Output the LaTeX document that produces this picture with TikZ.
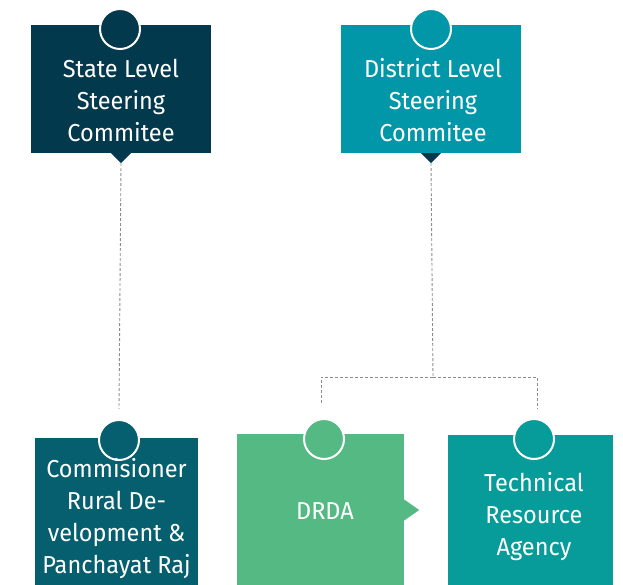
\documentclass[tikz,border=0pt]{standalone}
\usepackage{fontspec}
\setmainfont{Fira Sans}[FakeStretch=0.96]
\definecolor{statecol}{HTML}{03394C}
\definecolor{districtcol}{HTML}{0297A8}
\definecolor{commcol}{HTML}{055F6F}
\definecolor{drdacol}{HTML}{55B984}
\definecolor{techcol}{HTML}{079B9A}
\definecolor{linkcol}{HTML}{8C8C8C}
\tikzset{
	box/.style = {draw=none, rectangle, inner sep=0pt},
	dot/.style = {circle, draw=white, line width=2pt, minimum size=40pt, inner sep=0pt},
	lbl/.style = {text=white, align=center, font=\fontsize{24.5}{32}\selectfont, inner sep=0pt},
	link/.style = {draw=linkcol, line width=0.9pt, dash pattern=on 3pt off 2pt}
}
\begin{document}
\begin{tikzpicture}[x=1pt, y=-1pt]
		\useasboundingbox (0,0) rectangle (623,585);
		% boxes
		\node[box, fill=statecol, minimum width=180pt, minimum height=128pt] (state) at (121,89) {};
		\node[box, fill=districtcol, minimum width=180pt, minimum height=128pt] (district) at (431,89) {};
		\node[box, fill=commcol, minimum width=163pt, minimum height=148pt] (comm) at (116.5,511.5) {};
		\node[box, fill=drdacol, minimum width=167pt, minimum height=152pt] (drda) at (320.5,509.5) {};
		\node[box, fill=techcol, minimum width=165pt, minimum height=151pt] (tech) at (530.5,510) {};
		% pointers
		\fill[statecol] ([xshift=-10pt]state.south) -- ([yshift=-10pt]state.south) -- ([xshift=10pt]state.south) -- cycle;
		\fill[statecol] ([xshift=-10pt]district.south) -- ([yshift=-10pt]district.south) -- ([xshift=10pt]district.south) -- cycle;
		\fill[drdacol] ([yshift=10pt]drda.east) -- ([xshift=15pt,yshift=-0.5pt]drda.east) -- ([yshift=-11pt]drda.east) -- cycle;
		\coordinate (state-tip) at ([yshift=-10pt]state.south);
		\coordinate (district-tip) at ([yshift=-10pt]district.south);
		% circles
		\node[dot, fill=statecol] (state-dot) at (120,29) {};
		\node[dot, fill=districtcol] (district-dot) at (431,29) {};
		\node[dot, fill=commcol] (comm-dot) at (119,440) {};
		\node[dot, fill=drdacol] (drda-dot) at (324,439) {};
		\node[dot, fill=techcol] (tech-dot) at (534,439) {};
		% texts
		\node[lbl] (state-lbl) at (121,100) {State Level\\Steering\\Commitee};
		\node[lbl] (district-lbl) at (433,100) {District Level\\Steering\\Commitee};
		\node[lbl] (comm-lbl) at (116.5,519) {Commisioner\\Rural De-\\velopment \&\\Panchayat Raj};
		\node[lbl] (drda-lbl) at (325,511) {DRDA};
		\node[lbl] (tech-lbl) at (534,517) {Technical\\Resource\\Agency};
		% links
		\coordinate (fork) at (433,377);
		\draw[link] (state-tip) -- ([yshift=10pt]comm-dot.north);
		\draw[link] (district-tip) -- (fork);
		\draw[link] (fork) -| ([xshift=-3pt,yshift=14pt]drda-dot.north);
		\draw[link] (fork) -| ([xshift=3pt,yshift=9pt]tech-dot.north);
\end{tikzpicture}
\end{document}
